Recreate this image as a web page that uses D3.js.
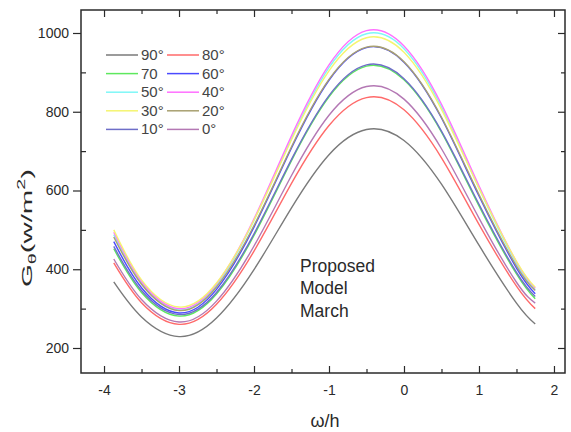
<!DOCTYPE html>
<html><head><meta charset="utf-8">
<script src="https://cdn.jsdelivr.net/npm/d3@7"></script>
<style>body{margin:0;background:#fff}svg{display:block}</style>
</head><body>
<svg id="c" width="571" height="432"></svg>
<script>
const xs = [-3.87, -3.5, -3.0, -2.5, -2.0, -1.5, -1.0, -0.5, 0.0, 0.5, 1.0, 1.5, 1.75];
const seriesNames = ["90°","80°","70","60°","50°","40°","30°","20°","10°","0°"];
const g90 = [368, 279, 229, 276, 399, 556, 691, 755, 727, 616, 461, 314, 261];
const g80 = [416, 315, 260, 311, 446, 618, 765, 836, 805, 683, 514, 357, 300];
const g70 = [452, 341, 281, 337, 486, 676, 838, 916, 881, 748, 561, 388, 325];
const g60 = [470, 353, 289, 349, 507, 708, 880, 963, 926, 784, 586, 403, 338];
const g50 = [488, 365, 297, 359, 524, 732, 912, 998, 960, 812, 606, 415, 348];
const g40 = [494, 369, 300, 363, 528, 739, 919, 1006, 967, 819, 612, 419, 352];
const g30 = [500, 373, 304, 365, 525, 729, 904, 988, 951, 806, 606, 420, 354];
const g20 = [482, 362, 295, 355, 511, 711, 882, 964, 927, 786, 590, 408, 346];
const g10 = [458, 346, 285, 341, 490, 679, 841, 919, 884, 751, 565, 392, 331];
const g0  = [426, 323, 266, 319, 459, 638, 791, 864, 832, 706, 530, 367, 314];
const seriesValues = [g90, g80, g70, g60, g50, g40, g30, g20, g10, g0];
const seriesColors = ["#7a7a7a","#ff6a6a","#5ee85e","#4a4aff","#7ff7f7","#ff70ff","#f5f570","#a8a070","#6e6ec8","#b478b4"];
const xTicks = [-4,-3,-2,-1,0,1,2];
const yTicks = [200,400,600,800,1000];

const svg = d3.select("#c");
const L=81, R=565, T=10, B=373;
const x = d3.scaleLinear().domain([-4.307, 2.147]).range([L, R]);
const y = d3.scaleLinear().domain([136.5, 1058.4]).range([B, T]);
const font = "'Liberation Sans', Arial, sans-serif";
const ink = "#2a2a2a";

// curves
const line = d3.line().x(d=>x(d[0])).y(d=>y(d[1])).curve(d3.curveNatural);
seriesValues.forEach((vals,i)=>{
  svg.append("path").datum(xs.map((v,j)=>[v, vals[j]]))
    .attr("d", line).attr("fill","none")
    .attr("stroke", seriesColors[i]).attr("stroke-width",1.4);
});

// frame
svg.append("rect").attr("x",L).attr("y",T).attr("width",R-L).attr("height",B-T)
  .attr("fill","none").attr("stroke",ink).attr("stroke-width",1.5);

const fmt = d => String(d);
const styleTicks = g=>{g.select(".domain").remove();g.selectAll("line").attr("stroke",ink).attr("stroke-width",1.2);};

// x axis (inward ticks)
const xMinor = d3.range(-4, 2.01, 0.5).filter(v=>!Number.isInteger(v));
const gx = svg.append("g").attr("transform",`translate(0,${B})`)
  .call(d3.axisBottom(x).tickValues(xTicks).tickSize(-7).tickPadding(12).tickFormat(fmt))
  .call(styleTicks);
gx.selectAll("text").attr("font-family",font).attr("font-size",14).attr("fill",ink);
svg.append("g").attr("transform",`translate(0,${B})`)
  .call(d3.axisBottom(x).tickValues(xMinor).tickSize(-4).tickFormat("")).call(styleTicks);
svg.append("g").attr("transform",`translate(0,${T})`)
  .call(d3.axisTop(x).tickValues(xTicks).tickSize(-7).tickFormat("")).call(styleTicks);
svg.append("g").attr("transform",`translate(0,${T})`)
  .call(d3.axisTop(x).tickValues(xMinor).tickSize(-4).tickFormat("")).call(styleTicks);

// y axis
const yMinor = [300,500,700,900];
const gy = svg.append("g").attr("transform",`translate(${L},0)`)
  .call(d3.axisLeft(y).tickValues(yTicks).tickSize(8).tickPadding(4).tickFormat(fmt))
  .call(styleTicks);
gy.selectAll("text").attr("font-family",font).attr("font-size",14).attr("fill",ink);
svg.append("g").attr("transform",`translate(${L},0)`)
  .call(d3.axisLeft(y).tickValues(yMinor).tickSize(-5).tickFormat("")).call(styleTicks);
svg.append("g").attr("transform",`translate(${R},0)`)
  .call(d3.axisRight(y).tickValues(yTicks).tickSize(-7).tickFormat("")).call(styleTicks);
svg.append("g").attr("transform",`translate(${R},0)`)
  .call(d3.axisRight(y).tickValues(yMinor).tickSize(-4).tickFormat("")).call(styleTicks);

// axis titles
svg.append("text").attr("x",(L+R)/2+2).attr("y",427).attr("text-anchor","middle")
  .attr("font-family",font).attr("font-size",18).attr("fill",ink).text("ω/h");
const yl = svg.append("text").attr("transform","translate(32,228) rotate(-90)")
  .attr("text-anchor","middle").attr("font-family",font).attr("font-size",15).attr("fill",ink)
  .attr("textLength",118).attr("lengthAdjust","spacingAndGlyphs");
yl.append("tspan").text("G");
yl.append("tspan").attr("font-size",10).attr("dy",4).text("θ");
yl.append("tspan").attr("dy",-4).text("(w/m");
yl.append("tspan").attr("font-size",10).attr("dy",-7).text("2");
yl.append("tspan").attr("dy",7).text(")");

// legend
const rowH = 18.6, legY0 = 55;
seriesNames.forEach((n,i)=>{
  const col = i%2, row = Math.floor(i/2);
  const lx = col===0 ? 106 : 167, ly = legY0 + row*rowH;
  svg.append("line").attr("x1",lx).attr("x2",lx+32).attr("y1",ly).attr("y2",ly)
    .attr("stroke",seriesColors[i]).attr("stroke-width",1.5);
  svg.append("text").attr("x",lx+35).attr("y",ly+5).attr("font-family",font)
    .attr("font-size",15).attr("fill","#444").text(n);
});

// annotation
const ann = ["Proposed","Model","March"];
ann.forEach((t,i)=>{
  svg.append("text").attr("x",300).attr("y",272+i*22.3).attr("font-family",font)
    .attr("font-size",17.5).attr("fill",ink).text(t);
});
</script>
</body></html>
